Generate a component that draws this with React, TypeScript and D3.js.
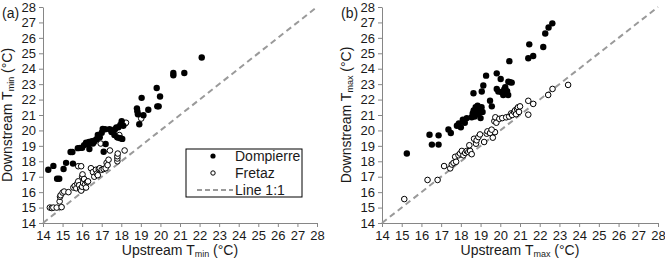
import React, { useRef, useEffect } from "react"
import * as d3 from "d3"

type Pt = [number, number]

// panel (a): upstream vs downstream Tmin
const minDompierre: Pt[] = [
  [14.27, 17.45], [14.53, 17.7], [14.72, 16.87], [14.83, 16.87], [15.05, 17.5], [15.18, 17.9],
  [15.41, 18.6], [15.5, 18.6], [15.53, 17.85], [15.78, 18.85], [15.9, 18.87], [16.0, 18.87],
  [16.1, 19.05], [16.2, 19.2], [16.28, 19.1], [16.35, 19.25], [16.37, 18.8], [16.45, 19.2],
  [16.5, 19.3], [16.55, 19.15], [16.6, 19.25], [16.65, 19.35], [16.75, 19.45], [16.8, 19.7],
  [16.9, 19.55], [17.0, 19.85], [17.05, 20.1], [17.2, 19.12], [17.1, 18.62], [17.17, 20.08],
  [17.4, 20.08], [17.5, 19.9], [17.6, 20.0], [17.68, 20.08], [17.75, 20.2], [17.85, 20.2],
  [17.95, 20.35], [18.02, 20.6], [18.1, 20.3], [17.65, 19.7], [17.8, 19.55], [17.95, 19.5],
  [18.05, 19.45], [18.8, 21.43], [18.82, 21.25], [18.85, 21.05], [18.92, 20.4], [19.04, 22.11],
  [19.13, 20.98], [19.38, 21.34], [19.84, 21.56], [19.91, 21.56], [19.81, 22.75], [19.98, 22.2],
  [20.66, 23.72], [20.66, 23.57], [21.22, 23.72], [22.11, 24.73],
]
const minFretaz: Pt[] = [
  [14.35, 15.0], [14.45, 14.97], [14.53, 15.0], [14.7, 15.0], [14.95, 15.03], [14.85, 15.4],
  [14.87, 15.7], [14.9, 15.8], [15.0, 15.97], [15.08, 16.04], [15.3, 16.0], [15.55, 16.3],
  [15.62, 16.4], [15.7, 16.25], [15.75, 16.55], [15.8, 16.7], [15.85, 16.45], [15.9, 16.2],
  [15.95, 16.1], [16.0, 16.35], [16.05, 16.6], [16.0, 17.0], [16.02, 17.15], [16.1, 16.85],
  [16.15, 16.5], [16.2, 16.3], [16.25, 16.65], [16.3, 16.7], [15.8, 17.68], [15.95, 17.68],
  [16.45, 17.55], [16.55, 17.3], [16.62, 17.0], [16.7, 17.45], [16.75, 17.2], [16.8, 17.1],
  [16.85, 17.5], [16.9, 17.55], [17.0, 17.45], [17.1, 17.5], [17.2, 17.55], [17.25, 17.9],
  [17.35, 18.1], [17.42, 18.7], [17.3, 17.75], [17.8, 18.0], [17.8, 18.18], [17.8, 18.33],
  [17.82, 18.5], [18.17, 18.7], [16.95, 19.15], [17.8, 19.55], [17.9, 19.7], [18.2, 20.45],
  [18.24, 20.5], [19.02, 20.77],
]

// panel (b): upstream vs downstream Tmax
const maxDompierre: Pt[] = [
  [15.26, 18.5], [16.41, 19.72], [16.53, 19.08], [16.87, 19.68], [16.87, 19.08], [17.49, 19.83],
  [17.37, 20.06], [17.8, 20.3], [17.9, 20.45], [18.0, 20.2], [18.1, 20.7], [18.2, 20.5],
  [18.3, 20.8], [18.55, 20.85], [18.6, 21.1], [18.65, 21.3], [18.7, 20.9], [18.75, 21.5],
  [18.8, 21.2], [18.85, 21.6], [18.9, 21.05], [18.95, 21.35], [19.0, 20.8], [19.05, 21.5],
  [19.1, 21.2], [18.64, 22.41], [19.06, 22.52], [19.14, 22.91], [19.28, 23.55], [19.48, 21.92],
  [19.57, 21.56], [19.82, 23.7], [19.82, 22.69], [19.9, 22.52], [20.02, 23.33], [20.07, 22.48],
  [20.15, 22.3], [20.2, 22.65], [20.25, 22.8], [20.3, 22.4], [20.35, 22.55], [20.4, 22.3],
  [20.41, 23.16], [20.49, 23.12], [20.58, 23.1], [20.46, 24.49], [21.42, 24.68], [21.67, 24.82],
  [21.47, 25.58], [22.18, 25.41], [22.28, 26.28], [22.45, 26.67], [22.64, 26.94],
]
const maxFretaz: Pt[] = [
  [15.13, 15.55], [16.31, 16.79], [16.82, 16.79], [17.15, 17.69], [17.46, 17.54], [17.54, 17.79],
  [17.63, 17.9], [17.71, 18.29], [17.76, 17.97], [17.88, 18.39], [17.96, 18.5], [18.05, 18.67],
  [18.13, 18.39], [18.22, 18.54], [18.3, 18.67], [18.38, 18.6], [18.47, 18.67], [18.55, 18.46],
  [18.43, 19.04], [18.67, 19.46], [18.77, 19.14], [18.8, 19.36], [18.89, 19.57], [18.97, 19.74],
  [19.18, 19.25], [19.31, 19.79], [19.35, 19.94], [19.48, 19.83], [19.62, 19.53], [19.73, 19.89],
  [19.56, 20.05], [19.7, 20.6], [19.75, 20.85], [19.8, 20.5], [19.95, 20.75], [20.1, 20.8],
  [20.3, 20.85], [20.45, 20.9], [20.55, 21.1], [20.6, 21.0], [20.7, 21.2], [20.75, 21.3],
  [20.8, 21.05], [20.85, 21.4], [20.9, 21.5], [20.95, 21.2], [21.0, 21.56], [21.42, 21.02],
  [21.42, 21.92], [21.67, 21.72], [22.43, 22.3], [22.65, 22.69], [23.44, 22.95],
]

const ticks = d3.range(14, 29)
const domain: [number, number] = [14, 28]
const legendItems = ["Dompierre", "Fretaz", "Line 1:1"]

const W = 665
const H = 259
const FONT = "Arial, 'Liberation Sans', sans-serif"
const AXIS = "#868686"
const TEXT = "#1a1a1a"

interface PanelSpec {
  tag: string
  sub: string
  left: number
  right: number
  filled: Pt[]
  open: Pt[]
  legend: boolean
}

const panels: PanelSpec[] = [
  { tag: "(a)", sub: "min", left: 43, right: 317, filled: minDompierre, open: minFretaz, legend: true },
  { tag: "(b)", sub: "max", left: 382, right: 658, filled: maxDompierre, open: maxFretaz, legend: false },
]

const App: React.FC = () => {
  const svgRef = useRef<SVGSVGElement | null>(null)

  useEffect(() => {
    const svg = d3.select(svgRef.current)
    svg.selectAll("*").remove()
    svg.attr("viewBox", [0, 0, W, H]).style("font-family", FONT)

    const top = 7
    const bottom = 223

    panels.forEach((p) => {
      const x = d3.scaleLinear().domain(domain).range([p.left, p.right])
      const y = d3.scaleLinear().domain(domain).range([bottom, top])

      // axes
      const styleAxis = (g: d3.Selection<SVGGElement, unknown, null, undefined>) => {
        g.select(".domain").attr("stroke", AXIS)
        g.selectAll(".tick line").attr("stroke", AXIS)
        g.selectAll(".tick text").attr("fill", TEXT).style("font-size", "13px").style("font-family", FONT)
      }
      svg.append("g")
        .attr("transform", `translate(0,${bottom})`)
        .call(d3.axisBottom(x).tickValues(ticks).tickSize(4).tickSizeOuter(0).tickPadding(4).tickFormat(d3.format("d")))
        .call(styleAxis)
      svg.append("g")
        .attr("transform", `translate(${p.left},0)`)
        .call(d3.axisLeft(y).tickValues(ticks).tickSize(4).tickSizeOuter(0).tickPadding(3).tickFormat(d3.format("d")))
        .call(styleAxis)

      // 1:1 line
      svg.append("line")
        .attr("x1", x(14)).attr("y1", y(14))
        .attr("x2", x(28)).attr("y2", y(28))
        .attr("stroke", "#9a9a9a").attr("stroke-width", 2).attr("stroke-dasharray", "6,4")

      // points
      svg.append("g").selectAll("circle").data(p.open).enter().append("circle")
        .attr("cx", (d) => x(d[0])).attr("cy", (d) => y(d[1])).attr("r", 2.8)
        .attr("fill", "white").attr("stroke", "black").attr("stroke-width", 1)
      svg.append("g").selectAll("circle").data(p.filled).enter().append("circle")
        .attr("cx", (d) => x(d[0])).attr("cy", (d) => y(d[1])).attr("r", 3.2)
        .attr("fill", "black")

      // panel tag
      svg.append("text").attr("x", p.left - 41).attr("y", 18)
        .attr("fill", TEXT).style("font-size", "14px").text(p.tag)

      // axis titles
      const xt = svg.append("text")
        .attr("x", (p.left + p.right) / 2).attr("y", 255)
        .attr("text-anchor", "middle").attr("fill", TEXT).style("font-size", "14px")
      xt.append("tspan").text("Upstream T")
      xt.append("tspan").attr("dy", 2).style("font-size", "9px").text(p.sub)
      xt.append("tspan").attr("dy", -2).text(" (°C)")

      const yt = svg.append("text")
        .attr("transform", `translate(${p.left - 31},${(top + bottom) / 2}) rotate(-90)`)
        .attr("text-anchor", "middle").attr("fill", TEXT).style("font-size", "14px")
      yt.append("tspan").text("Downstream T")
      yt.append("tspan").attr("dy", 2).style("font-size", "9px").text(p.sub)
      yt.append("tspan").attr("dy", -2).text(" (°C)")

      if (p.legend) {
        const lg = svg.append("g")
        lg.append("rect").attr("x", 186).attr("y", 149).attr("width", 116).attr("height", 48)
          .attr("fill", "white").attr("stroke", "black").attr("stroke-width", 1)
        const ly = d3.scalePoint<string>().domain(legendItems).range([156, 190])
        lg.append("circle").attr("cx", 213).attr("cy", ly("Dompierre")!).attr("r", 2.6).attr("fill", "black")
        lg.append("circle").attr("cx", 213).attr("cy", ly("Fretaz")!).attr("r", 2.2)
          .attr("fill", "white").attr("stroke", "black")
        lg.append("line").attr("x1", 197).attr("x2", 233)
          .attr("y1", ly("Line 1:1")!).attr("y2", ly("Line 1:1")!)
          .attr("stroke", "#9a9a9a").attr("stroke-width", 2).attr("stroke-dasharray", "5,3")
        lg.selectAll("text.lt").data(legendItems).enter().append("text")
          .attr("x", 235).attr("y", (d) => ly(d)! + 5)
          .attr("fill", TEXT).style("font-size", "14px").text((d) => d)
      }
    })
  }, [])

  return (
    <svg ref={svgRef} width={W} height={H}
      style={{ position: "absolute", left: 0, top: 0, background: "white" }} />
  )
}

export default App
